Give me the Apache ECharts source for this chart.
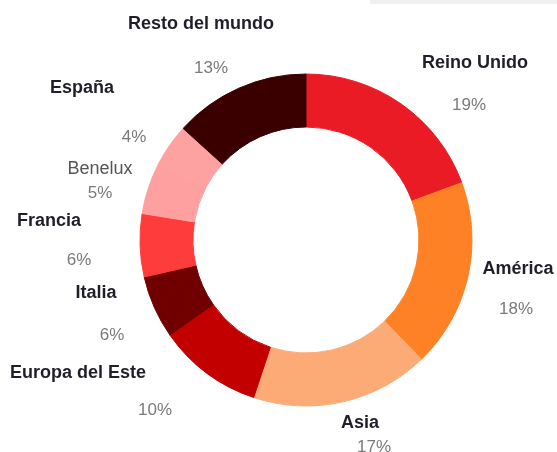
<!DOCTYPE html>
<html>
<head>
<meta charset="utf-8">
<script src="https://cdn.jsdelivr.net/npm/echarts@6/dist/echarts.min.js"></script>
<style>
  html, body { margin: 0; padding: 0; background: #fff; }
  #chart { width: 557px; height: 452px; }
</style>
</head>
<body>
<div id="chart"></div>
<script>
  // data, clockwise from 12 o'clock
  var regions = ['Reino Unido', 'América', 'Asia', 'Europa del Este', 'Italia', 'Francia', 'Benelux', 'España', 'Resto del mundo']
  var shares = [19, 18, 17, 10, 6, 6, 5, 4, 13]
  var sliceColors = ['#ea1b25', '#fe8125', '#fdab76', '#c20000', '#700000', '#fe3c3c', '#fea0a0', '#fda1a1', '#3a0000']

  // label anchor points (centre of text)
  var namePos = [[475, 63], [518, 269], [360, 423], [78, 373], [96, 293], [49, 221], [100, 169], [82, 88], [201, 24]]
  var pctPos = [[469, 105], [516, 309], [374, 447], [155, 410], [112, 335], [79, 260], [100, 193], [134, 137], [211, 68]]

  var chart = echarts.init(document.getElementById('chart'))

  function placeAt(pos) {
    return function (params) {
      var p = pos[params.dataIndex]
      return { x: p[0], y: p[1], align: 'center', verticalAlign: 'middle' }
    }
  }

  chart.setOption({
    animation: false,
    graphic: [{
      type: 'rect',
      shape: { x: 370, y: 0, width: 187, height: 4 },
      style: { fill: '#f0f0f0' },
      silent: true
    }],
    series: [
      {
        type: 'pie',
        center: [306, 240],
        radius: [113, 166],
        startAngle: 90,
        clockwise: true,
        padAngle: 0,
        avoidLabelOverlap: false,
        label: {
          show: true,
          position: 'outside',
          formatter: '{b}',
          fontFamily: 'Liberation Sans',
          fontSize: 18,
          fontWeight: 'bold',
          color: '#1f1f2a'
        },
        labelLine: { show: false },
        labelLayout: placeAt(namePos),
        data: regions.map(function (name, i) {
          var d = {
            name: name,
            value: shares[i],
            itemStyle: { color: sliceColors[i], borderColor: sliceColors[i], borderWidth: 1 }
          }
          if (name === 'Benelux') d.label = { fontWeight: 'normal', color: '#555555' }
          return d
        })
      },
      {
        // invisible copy that only carries the percentage labels
        type: 'pie',
        center: [306, 240],
        radius: [113, 166],
        startAngle: 90,
        clockwise: true,
        silent: true,
        avoidLabelOverlap: false,
        itemStyle: { opacity: 0 },
        label: {
          show: true,
          position: 'outside',
          formatter: '{c}%',
          fontFamily: 'Liberation Sans',
          fontSize: 17,
          color: '#7a7a7a',
          opacity: 1
        },
        labelLine: { show: false },
        labelLayout: placeAt(pctPos),
        data: regions.map(function (name, i) {
          return { name: name, value: shares[i] }
        })
      }
    ]
  })
</script>
</body>
</html>
